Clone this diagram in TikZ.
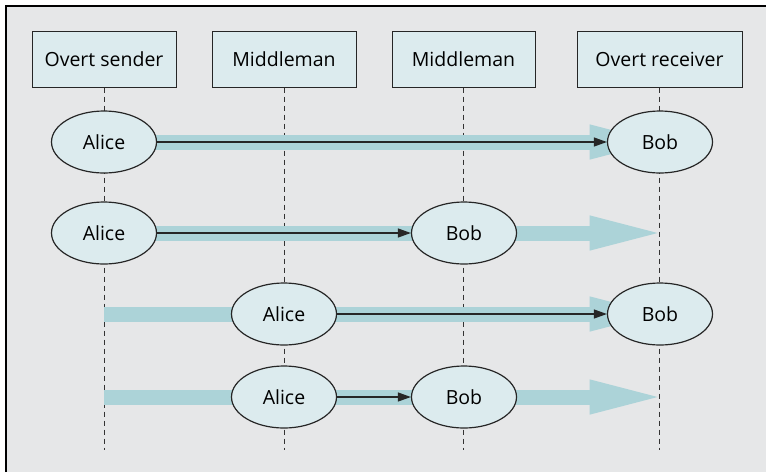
\documentclass[tikz,border=0pt]{standalone}
\usepackage{fontspec}
\setmainfont{Open Sans}
\usetikzlibrary{shapes.geometric,arrows.meta,backgrounds}

\definecolor{panelgray}{HTML}{E6E7E8}
\definecolor{paleblue}{HTML}{DCEBEE}
\definecolor{bandteal}{HTML}{ACD3D8}

\begin{document}
\begin{tikzpicture}[x=1pt, y=-1pt,
        role/.style={draw=black!85, line width=1pt, fill=paleblue, minimum height=56pt, inner sep=0pt, font=\fontsize{19.5}{22}\selectfont},
        party/.style={ellipse, draw=black!85, line width=1.2pt, fill=paleblue, minimum width=105pt, minimum height=62pt, inner sep=0pt, font=\fontsize{19.5}{22}\selectfont},
        lifeline/.style={draw=black!80, line width=0.9pt, dash pattern=on 5pt off 4pt},
        band/.style={draw=bandteal, line width=15pt, shorten >=-8pt, -{Triangle[length=78pt,width=30pt,fill=bandteal]}},
        msg/.style={draw=black!85, line width=1.1pt, -{Triangle[length=13pt,width=9pt]}}]
    \useasboundingbox (0,0) rectangle (766,472);

    \node[role, minimum width=144pt] (snd)  at (104,59)   {Overt sender};
    \node[role, minimum width=144pt] (mid1) at (284,59)   {Middleman};
    \node[role, minimum width=143pt] (mid2) at (463.5,59) {Middleman};
    \node[role, minimum width=165pt] (rcv)  at (659.5,59) {Overt receiver};

    \node[party] (a1) at (104,142) {Alice};
    \node[party] (b1) at (660,142) {Bob};
    \node[party] (a2) at (104,233) {Alice};
    \node[party] (b2) at (464,233) {Bob};
    \node[party] (a3) at (284,314) {Alice};
    \node[party] (b3) at (660,314) {Bob};
    \node[party] (a4) at (284,397) {Alice};
    \node[party] (b4) at (464,397) {Bob};

    \begin{scope}[on background layer]
        \fill[panelgray] (6,6) rectangle (766,472);
        \draw[line width=1.3pt] (6,472) -- (6,6) -- (766,6);  % frame is cut off right and below
        \foreach \n in {snd,mid1,mid2,rcv}
            \draw[lifeline] (\n.south) -- (\n.south |- 0,450);
        \foreach \r in {1,2,3,4}
            \draw[band] (snd |- a\r) -- (rcv |- a\r);
    \end{scope}

    \draw[msg] (a1) -- (b1);
    \draw[msg] (a2) -- (b2);
    \draw[msg] (a3) -- (b3);
    \draw[msg] (a4) -- (b4);
\end{tikzpicture}
\end{document}
